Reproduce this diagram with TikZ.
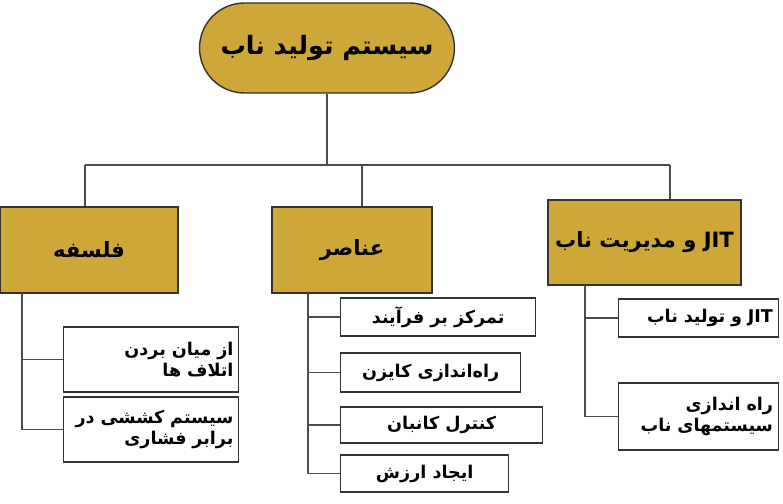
\documentclass[tikz,border=0pt]{standalone}
\usepackage{fontspec}
\newfontfamily\fafont[Script=Arabic]{DejaVu Sans}
\TeXXeTstate=1
\definecolor{gold}{HTML}{CDA838}
\tikzset{
  headbox/.style={draw=black!80, fill=gold, thick, inner sep=0pt, font=\fafont\bfseries\large},
  itembox/.style={draw=black!80, fill=white, thick, inner sep=4pt, align=right, font=\fafont\bfseries\normalsize},
  link/.style={draw=black!70, thick}
}
\begin{document}
\begin{tikzpicture}[x=0.02cm,y=-0.02cm]
\useasboundingbox (0,0) rectangle (783,503);
% top node
\node[headbox, rounded corners=0.9cm, minimum width=5.1cm, minimum height=1.8cm, font=\fafont\bfseries\Large] (top) at (327,48) {\beginR سیستم تولید ناب\endR};
% main branches
\node[headbox, minimum width=3.56cm, minimum height=1.72cm] (phil) at (89,250) {\beginR فلسفه\endR};
\node[headbox, minimum width=3.2cm, minimum height=1.72cm] (elem) at (352,250) {\beginR عناصر\endR};
\node[headbox, minimum width=3.86cm, minimum height=1.7cm] (jit) at (644.5,242.5) {\beginR\beginL JIT\endL{} و مدیریت ناب\endR};
\coordinate (bus) at (327,165);
\coordinate (pb) at (85,165);
\coordinate (eb) at (362,165);
\coordinate (jb) at (670,165);
\draw[link] (top) -- (bus);
\draw[link] (pb) -- (jb);
\draw[link] (pb) -- (pb |- phil.north);
\draw[link] (eb) -- (eb |- elem.north);
\draw[link] (jb) -- (jb |- jit.north);
% children of phil
\node[itembox, inner xsep=3pt, text width=3.3cm, minimum height=1.3cm] (p1) at (151,359.5) {\beginR از میان بردن\endR\\\beginR اتلاف ها\endR};
\node[itembox, inner xsep=3pt, text width=3.3cm, minimum height=1.3cm] (p2) at (151,429.5) {\beginR سیستم کششی در\endR\\\beginR برابر فشاری\endR};
\coordinate (pt) at (22,293);
\draw[link] (pt) |- (p1.west);
\draw[link] (pt) |- (p2.west);
% children of elem
\node[itembox, minimum width=3.9cm, minimum height=0.76cm, anchor=west] (e1) at (340,317) {\beginR تمرکز بر فرآیند\endR};
\node[itembox, minimum width=3.6cm, minimum height=0.78cm, anchor=west] (e2) at (340,372.5) {\beginR راه‌اندازی کایزن\endR};
\node[itembox, minimum width=4.04cm, minimum height=0.72cm, anchor=west] (e3) at (340,425) {\beginR کنترل کانبان\endR};
\node[itembox, minimum width=3.36cm, minimum height=0.74cm, anchor=west] (e4) at (340,473.5) {\beginR ایجاد ارزش\endR};
\coordinate (et) at (308,293);
\foreach \n in {e1,e2,e3,e4} \draw[link] (et) |- (\n.west);
% children of jit
\node[itembox, inner xsep=3pt, text width=2.98cm, minimum height=0.76cm] (j1) at (698.5,318) {\beginR\beginL JIT\endL{} و تولید ناب\endR};
\node[itembox, inner xsep=3pt, text width=2.98cm, minimum height=1.34cm] (j2) at (698.5,416.5) {\beginR راه اندازی\endR\\\beginR سیستمهای ناب\endR};
\coordinate (jt) at (585,285);
\draw[link] (jt) |- (j1.west);
\draw[link] (jt) |- (j2.west);
\end{tikzpicture}
\end{document}
